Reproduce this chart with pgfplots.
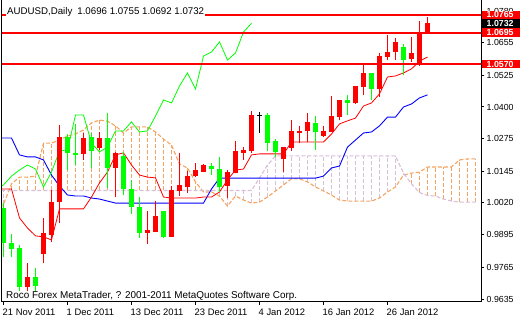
\documentclass[border=0pt]{standalone}
\usepackage{fontspec}
\setmainfont{Liberation Sans}
\usepackage{pgfplots}
\usepackage{pgfplotstable}
\pgfplotsset{compat=1.18}
\definecolor{sandy}{HTML}{F4A460}
\definecolor{thist}{HTML}{D8BFD8}
\definecolor{mtred}{HTML}{FF0000}
\definecolor{mtlime}{HTML}{00FF00}
\definecolor{mtblue}{HTML}{0000FF}

% up (bullish) candles: red
\pgfplotstableread{
i o h l c
3 0.9686 0.9781 0.9670 0.9726
5 0.9817 0.9960 0.9781 0.9900
6 0.9892 1.0071 0.9865 1.0023
7 1.0023 1.0329 0.9940 1.0281
10 1.0214 1.0297 1.0190 1.0277
12 1.0237 1.0301 1.0230 1.0277
14 1.0158 1.0222 1.0043 1.0218
18 0.9900 0.9988 0.9857 0.9912
19 0.9904 1.0027 0.9904 0.9968
21 0.9885 1.0087 0.9885 1.0071
22 1.0067 1.0218 1.0047 1.0091
23 1.0083 1.0146 1.0059 1.0126
24 1.0126 1.0178 1.0122 1.0150
25 1.0142 1.0174 1.0142 1.0170
28 1.0087 1.0150 1.0039 1.0142
29 1.0138 1.0265 1.0138 1.0226
30 1.0218 1.0241 1.0190 1.0230
31 1.0226 1.0384 1.0218 1.0368
35 1.0194 1.0241 1.0142 1.0241
36 1.0237 1.0348 1.0226 1.0305
37 1.0297 1.0325 1.0257 1.0305
38 1.0305 1.0376 1.0261 1.0341
40 1.0285 1.0325 1.0281 1.0305
41 1.0301 1.0444 1.0301 1.0364
42 1.0360 1.0428 1.0348 1.0428
44 1.0416 1.0483 1.0412 1.0483
45 1.0479 1.0571 1.0448 1.0535
47 1.0471 1.0614 1.0440 1.0602
48 1.0598 1.0686 1.0586 1.0618
49 1.0618 1.0674 1.0586 1.0658
51 1.0590 1.0678 1.0578 1.0614
52 1.0574 1.0741 1.0563 1.0697
53 1.0696 1.0755 1.0692 1.0732
}\upcandles

% down (bearish) candles: lime
\pgfplotstableread{
i o h l c
0 1.0000 1.0019 0.9805 0.9861
1 0.9861 0.9896 0.9805 0.9837
2 0.9841 0.9853 0.9670 0.9686
4 0.9726 0.9762 0.9667 0.9690
8 1.0281 1.0293 1.0150 1.0218
9 1.0218 1.0333 1.0170 1.0210
11 1.0281 1.0297 1.0158 1.0226
13 1.0277 1.0376 1.0079 1.0158
15 1.0206 1.0222 1.0051 1.0075
16 1.0075 1.0111 0.9976 1.0004
17 1.0004 1.0043 0.9881 0.9900
20 0.9988 0.9988 0.9881 0.9885
26 1.0166 1.0178 1.0130 1.0154
27 1.0154 1.0202 1.0063 1.0083
33 1.0368 1.0376 1.0226 1.0257
34 1.0265 1.0273 1.0202 1.0222
39 1.0337 1.0364 1.0230 1.0301
43 1.0428 1.0448 1.0368 1.0416
46 1.0535 1.0535 1.0428 1.0471
50 1.0638 1.0650 1.0527 1.0586
}\downcandles

% doji
\pgfplotstableread{
i o h l c
32 1.0368 1.0380 1.0297 1.0368
}\dojicandles

% Tenkan-sen (t) and Kijun-sen (k)
\pgfplotstableread{
i t k
-1 1.0075 1.0277
0 1.0075 1.0277
1 1.0075 1.0277
2 0.9960 1.0210
3 0.9920 1.0202
4 0.9889 1.0202
5 0.9885 1.0190
6 0.9873 1.0130
7 0.9996 1.0087
8 0.9996 1.0051
9 0.9996 1.0047
10 0.9996 1.0047
11 1.0043 1.0039
12 1.0099 1.0035
13 1.0142 1.0027
14 1.0210 1.0019
15 1.0218 1.0019
16 1.0170 1.0019
17 1.0130 1.0019
18 1.0122 1.0019
19 1.0119 1.0019
20 1.0043 1.0019
21 1.0039 1.0019
22 1.0039 1.0019
23 1.0039 1.0019
24 1.0039 1.0019
25 1.0043 1.0019
26 1.0043 1.0075
27 1.0063 1.0118
28 1.0111 1.0118
29 1.0150 1.0118
30 1.0154 1.0118
31 1.0210 1.0118
32 1.0214 1.0118
33 1.0214 1.0118
34 1.0214 1.0118
35 1.0214 1.0118
36 1.0261 1.0118
37 1.0261 1.0118
38 1.0261 1.0118
39 1.0261 1.0118
40 1.0261 1.0126
41 1.0293 1.0158
42 1.0333 1.0166
43 1.0345 1.0241
44 1.0356 1.0269
45 1.0404 1.0297
46 1.0416 1.0301
47 1.0452 1.0325
48 1.0519 1.0360
49 1.0523 1.0360
50 1.0535 1.0400
51 1.0551 1.0412
52 1.0582 1.0436
53 1.0598 1.0448
}\tk

% Chikou span
\pgfplotstableread{
i c
-1 1.0071
0 1.0091
1 1.0126
2 1.0150
3 1.0170
4 1.0154
5 1.0083
6 1.0142
7 1.0226
8 1.0230
9 1.0368
10 1.0368
11 1.0257
12 1.0222
13 1.0241
14 1.0305
15 1.0305
16 1.0341
17 1.0301
18 1.0305
19 1.0364
20 1.0428
21 1.0416
22 1.0483
23 1.0535
24 1.0471
25 1.0602
26 1.0618
27 1.0658
28 1.0586
29 1.0614
30 1.0697
31 1.0732
}\chikou

% Senkou span A (a) and B (b)
\pgfplotstableread{
i a b
-1 0.9984 1.0069
0 1.0015 1.0069
1 1.0095 1.0069
2 1.0122 1.0069
3 1.0122 1.0069
4 1.0126 1.0069
5 1.0257 1.0069
6 1.0257 1.0069
7 1.0269 1.0069
8 1.0285 1.0069
9 1.0293 1.0069
10 1.0309 1.0069
11 1.0337 1.0069
12 1.0348 1.0069
13 1.0344 1.0069
14 1.0325 1.0069
15 1.0297 1.0069
16 1.0321 1.0069
17 1.0321 1.0069
18 1.0321 1.0069
19 1.0301 1.0069
20 1.0273 1.0069
21 1.0249 1.0069
22 1.0174 1.0069
23 1.0158 1.0069
24 1.0103 1.0069
25 1.0063 1.0069
26 1.0063 1.0069
27 1.0047 1.0069
28 1.0007 1.0069
29 1.0047 1.0069
30 1.0031 1.0069
31 1.0019 1.0069
32 1.0023 1.0118
33 1.0043 1.0170
34 1.0067 1.0206
35 1.0091 1.0206
36 1.0115 1.0206
37 1.0115 1.0206
38 1.0103 1.0206
39 1.0083 1.0206
40 1.0067 1.0206
41 1.0051 1.0206
42 1.0031 1.0206
43 1.0027 1.0206
44 1.0027 1.0206
45 1.0027 1.0206
46 1.0027 1.0206
47 1.0039 1.0206
48 1.0063 1.0206
49 1.0083 1.0206
50 1.0130 1.0138
51 1.0138 1.0095
52 1.0142 1.0061
53 1.0162 1.0049
54 1.0162 1.0047
55 1.0162 1.0035
56 1.0162 1.0027
57 1.0190 1.0023
58 1.0194 1.0023
59 1.0194 1.0023
}\spans

% cloud hatch segments where span A is above span B (sandy brown)
\pgfplotstableread{
i y
1 1.0069
1 1.0095
1 nan
2 1.0069
2 1.0122
2 nan
3 1.0069
3 1.0122
3 nan
4 1.0069
4 1.0126
4 nan
5 1.0069
5 1.0257
5 nan
6 1.0069
6 1.0257
6 nan
7 1.0069
7 1.0269
7 nan
8 1.0069
8 1.0285
8 nan
9 1.0069
9 1.0293
9 nan
10 1.0069
10 1.0309
10 nan
11 1.0069
11 1.0337
11 nan
12 1.0069
12 1.0348
12 nan
13 1.0069
13 1.0344
13 nan
14 1.0069
14 1.0325
14 nan
15 1.0069
15 1.0297
15 nan
16 1.0069
16 1.0321
16 nan
17 1.0069
17 1.0321
17 nan
18 1.0069
18 1.0321
18 nan
19 1.0069
19 1.0301
19 nan
20 1.0069
20 1.0273
20 nan
21 1.0069
21 1.0249
21 nan
22 1.0069
22 1.0174
22 nan
23 1.0069
23 1.0158
23 nan
24 1.0069
24 1.0103
24 nan
51 1.0095
51 1.0138
51 nan
52 1.0061
52 1.0142
52 nan
53 1.0049
53 1.0162
53 nan
54 1.0047
54 1.0162
54 nan
55 1.0035
55 1.0162
55 nan
56 1.0027
56 1.0162
56 nan
57 1.0023
57 1.0190
57 nan
58 1.0023
58 1.0194
58 nan
59 1.0023
59 1.0194
}\cloudA

% cloud hatch segments where span B is above span A (thistle)
\pgfplotstableread{
i y
0 1.0015
0 1.0069
0 nan
25 1.0063
25 1.0069
25 nan
26 1.0063
26 1.0069
26 nan
27 1.0047
27 1.0069
27 nan
28 1.0007
28 1.0069
28 nan
29 1.0047
29 1.0069
29 nan
30 1.0031
30 1.0069
30 nan
31 1.0019
31 1.0069
31 nan
32 1.0023
32 1.0118
32 nan
33 1.0043
33 1.0170
33 nan
34 1.0067
34 1.0206
34 nan
35 1.0091
35 1.0206
35 nan
36 1.0115
36 1.0206
36 nan
37 1.0115
37 1.0206
37 nan
38 1.0103
38 1.0206
38 nan
39 1.0083
39 1.0206
39 nan
40 1.0067
40 1.0206
40 nan
41 1.0051
41 1.0206
41 nan
42 1.0031
42 1.0206
42 nan
43 1.0027
43 1.0206
43 nan
44 1.0027
44 1.0206
44 nan
45 1.0027
45 1.0206
45 nan
46 1.0027
46 1.0206
46 nan
47 1.0039
47 1.0206
47 nan
48 1.0063
48 1.0206
48 nan
49 1.0083
49 1.0206
49 nan
50 1.0130
50 1.0138
}\cloudB

\pgfplotsset{
  vseg/.style={only marks, mark=*, mark size=0pt, mark options={draw=none, fill=none},
    error bars/y dir=plus, error bars/y explicit, error bars/error mark=none,
    error bars/error bar style={#1}},
}

\begin{document}
\begin{tikzpicture}
\useasboundingbox (0pt,0pt) rectangle (520pt,320pt);
\begin{axis}[
  at={(2pt,18pt)}, anchor=south west,
  scale only axis, width=479pt, height=303pt,
  xmin=-0.1875, xmax=59.6875,
  ymin=0.96268, ymax=1.08282,
  axis line style={line width=1pt, black},
  tick align=outside,
  major tick length=3pt,
  tick style={black, line width=1pt},
  unbounded coords=jump,
  xtick={0,8,16,24,32,40,48},
  xticklabels={21 Nov 2011, 1 Dec 2011, 13 Dec 2011, 23 Dec 2011, 4 Jan 2012, 16 Jan 2012, 26 Jan 2012},
  xtick pos=bottom,
  xticklabel style={anchor=north west, inner sep=0pt, xshift=-1pt, yshift=-3.5pt, font=\fontsize{9.4}{10}\selectfont},
  ytick={0.9635,0.9765,0.9895,1.0020,1.0145,1.0275,1.0400,1.0525,1.0655,1.0780},
  yticklabels={0.9635,0.9765,0.9895,1.0020,1.0145,1.0275,1.0400,1.0525,1.0655,1.0780},
  ytick pos=right,
  yticklabel pos=right,
  yticklabel style={anchor=west, inner sep=0pt, xshift=2.5pt, font=\fontsize{8.8}{10}\selectfont},
]
% cloud hatching (vertical dashed segments between span A and span B)
\addplot[thist, line width=1.2pt, dash pattern=on 4pt off 2pt, forget plot] table[x=i, y=y] {\cloudB};
\addplot[sandy, line width=1.2pt, dash pattern=on 4pt off 2pt, forget plot] table[x=i, y=y] {\cloudA};
% spans
\addplot[sandy, line width=1.1pt, dash pattern=on 4pt off 2pt] table[x=i, y=a] {\spans};
\addplot[thist, line width=1.1pt, dash pattern=on 4pt off 2pt] table[x=i, y=b] {\spans};
% lines
\addplot[mtblue, line width=0.9pt] table[x=i, y=k] {\tk};
\addplot[mtred, line width=0.8pt] table[x=i, y=t] {\tk};
\addplot[mtlime, line width=0.8pt] table[x=i, y=c] {\chikou};
% candles: wicks
\addplot[vseg={draw=mtred, line width=1pt}]
  table[x=i, y=l, y error plus expr={\thisrow{h}-\thisrow{l}}] {\upcandles};
\addplot[vseg={draw=mtlime, line width=1pt}]
  table[x=i, y=l, y error plus expr={\thisrow{h}-\thisrow{l}}] {\downcandles};
\addplot[vseg={draw=black, line width=1pt}]
  table[x=i, y=l, y error plus expr={\thisrow{h}-\thisrow{l}}] {\dojicandles};
% candles: bodies
\addplot[vseg={draw=mtred, line width=5pt, line cap=butt}]
  table[x=i, y=o, y error plus expr={\thisrow{c}-\thisrow{o}}] {\upcandles};
\addplot[vseg={draw=mtlime, line width=5pt, line cap=butt}]
  table[x=i, y=c, y error plus expr={\thisrow{o}-\thisrow{c}}] {\downcandles};
\addplot[only marks, mark=-, mark size=2.5pt, black, mark options={line width=1pt}]
  table[x=i, y=o] {\dojicandles};
% horizontal levels
\addplot[mtred, line width=2pt] coordinates {(-1,1.0765) (60,1.0765)};
\addplot[mtred, line width=2pt] coordinates {(-1,1.0695) (60,1.0695)};
\addplot[mtred, line width=2pt] coordinates {(-1,1.0570) (60,1.0570)};
\coordinate (P1) at (axis cs:59.6875,1.0765);
\coordinate (P2) at (axis cs:59.6875,1.0732);
\coordinate (P3) at (axis cs:59.6875,1.0695);
\coordinate (P4) at (axis cs:59.6875,1.0570);
\end{axis}
\tikzset{pricebox/.style={anchor=west, inner xsep=5pt, inner ysep=0pt, minimum height=8.6pt,
  text width=30pt, align=left, font=\bfseries\fontsize{8.8}{9}\selectfont, text=white}}
\node[pricebox, fill=black] at ([xshift=0.5pt]P2) {1.0732};
\node[pricebox, fill=mtred] at ([xshift=0.5pt]P1) {1.0765};
\node[pricebox, fill=mtred] at ([xshift=0.5pt]P3) {1.0695};
\node[pricebox, fill=mtred] at ([xshift=0.5pt]P4) {1.0570};
\node[fill=white, anchor=base west, inner xsep=1pt, inner ysep=2pt, font=\fontsize{9.7}{11}\selectfont]
  at (6pt,305pt) {AUDUSD,Daily\hspace{5pt}1.0696 1.0755 1.0692 1.0732};
\node[anchor=base west, inner sep=0pt, font=\fontsize{9.9}{11}\selectfont]
  at (6pt,21pt) {Roco Forex MetaTrader, ? 2001-2011 MetaQuotes Software Corp.};
\end{tikzpicture}
\end{document}
